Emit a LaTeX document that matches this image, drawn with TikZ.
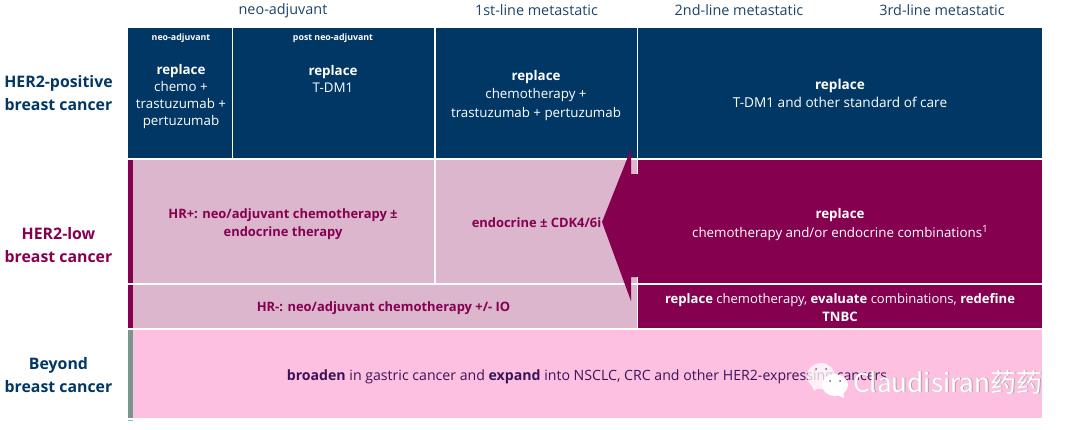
\documentclass[tikz,border=0pt]{standalone}
\usepackage{fontspec}
\setmainfont{Open Sans}
\newfontfamily\cjkf{Noto Sans CJK SC}
\definecolor{navy}{HTML}{003764}
\definecolor{maroon}{HTML}{85004F}
\definecolor{lightm}{HTML}{DBB6CD}
\definecolor{pinkb}{HTML}{FDC0E1}
\definecolor{graybar}{HTML}{7A958E}
\definecolor{headc}{HTML}{1F4468}
\definecolor{darkt}{HTML}{3A1458}
\tikzset{
 x=0.75pt,y=-0.75pt,
 every node/.style={inner sep=0pt,outer sep=0pt,align=center},
 head/.style={text=headc,font=\fontsize{10.8}{12}\selectfont},
 rowlab/.style={text=navy,font=\bfseries\fontsize{11.9}{16.8}\selectfont},
 rowlabm/.style={text=maroon,font=\bfseries\fontsize{11.9}{16.8}\selectfont},
 tiny/.style={text=white,font=\bfseries\fontsize{6.6}{8}\selectfont},
 cell/.style={text=white,font=\fontsize{10}{13.6}\selectfont},
 cellnarrow/.style={text=white,font=\fontsize{10}{12.75}\selectfont},
 celldark/.style={text=maroon,font=\bfseries\fontsize{9.7}{13.5}\selectfont},
 sep/.style={white,line width=0.9pt},
 wmark/.style={font=\cjkf\fontsize{19.6}{22}\selectfont,anchor=west},
}
\begin{document}
\begin{tikzpicture}
\useasboundingbox (0,0) rectangle (1080,429);
% fills
\fill[navy] (128,28) rectangle (1042,158);
\fill[lightm] (128,160) rectangle (637,283);
\fill[lightm] (128,285) rectangle (637,328);
\fill[maroon] (638,160) rectangle (1042,283);
\fill[maroon] (638,285) rectangle (1042,328);
\fill[pinkb] (128,330) rectangle (1042,418);
\fill[maroon] (128,160) rectangle (133,283);
\fill[maroon] (128,285) rectangle (133,328);
\fill[graybar] (128,330) rectangle (133,418);
\fill[graybar!70] (128,420) rectangle (133,421);
% separators
\draw[sep] (232.5,28) -- (232.5,160);
\draw[sep] (435,28) -- (435,283);
\draw[sep] (637.5,28) -- (637.5,160);
\draw[sep] (637.5,283) -- (637.5,328);
\draw[sep] (128,159) -- (1042,159);
% arrow
\fill[lightm] (631,160) rectangle (638,175);
\fill[lightm] (631,276) rectangle (638,285);
\draw[sep] (637.5,160) -- (637.5,175);
\draw[sep] (637.5,276) -- (637.5,283);
\draw[white,line width=1pt] (128,284) -- (638,284);
\fill[maroon] (602,222) -- (631,149) -- (631,174) -- (639,174) -- (639,277) -- (631,277) -- (631,301) -- cycle;
% headers
\node[head] (h1) at (283,10.5) {neo-adjuvant};
\node[head] (h2) at (536.5,10.5) {1st-line metastatic};
\node[head] (h3) at (739,10.5) {2nd-line metastatic};
\node[head] (h4) at (942,10.5) {3rd-line metastatic};
% row labels
\node[rowlab] (r1) at (58.5,93) {HER2-positive\\breast cancer};
\node[rowlabm] (r2) at (58.5,245) {HER2-low\\breast cancer};
\node[rowlab] (r3) at (58.5,375) {Beyond\\breast cancer};
% top row
\node[tiny] (t1) at (181,38) {neo-adjuvant};
\node[tiny] (t2) at (333,38) {post neo-adjuvant};
\node[cellnarrow] (c1) at (181,96.5) {\textbf{replace}\\chemo +\\trastuzumab +\\pertuzumab};
\node[cellnarrow] (c2) at (333,78.5) {\textbf{replace}\\T-DM1};
\node[cell] (c3) at (536,95.5) {\textbf{replace}\\chemotherapy +\\trastuzumab + pertuzumab};
\node[cell,font=\fontsize{10.2}{13.6}\selectfont] (c4) at (840,93.5) {\textbf{replace}\\T-DM1 and other standard of care};
% row 2
\node[celldark] (d1) at (283,224.5) {HR+: neo/adjuvant chemotherapy ±\\endocrine therapy};
\node[celldark] (d2) at (536.5,222.5) {endocrine ± CDK4/6i};
\node[cell] (d3) at (840,224.5) {\textbf{replace}\\chemotherapy and/or endocrine combinations\raisebox{3.5pt}{\fontsize{7.5}{8}\selectfont 1}};
% row 3
\node[celldark] (e1) at (383.5,308.5) {HR-: neo/adjuvant chemotherapy +/- IO};
\node[cell,font=\fontsize{9.8}{13.6}\selectfont] (e2) at (840,307.5) {\textbf{replace} chemotherapy, \textbf{evaluate} combinations, \textbf{redefine}\\\textbf{TNBC}};
% row 4
\node[text=darkt,font=\fontsize{10.6}{14}\selectfont] (f1) at (587,376.5) {\textbf{broaden} in gastric cancer and \textbf{expand} into NSCLC, CRC and other HER2-expressing cancers};
% watermark
\fill[white,opacity=.75] (821,376) ellipse (14 and 13);
\fill[white,opacity=.75] (811,384) -- (818,388) -- (814,391) -- cycle;
\fill[white] (835,385) ellipse (13 and 11);
\fill[white] (836,394) -- (843,392) -- (844,398) -- cycle;
\fill[darkt!70] (816,369) circle (1) (826,369) circle (1) (830,381) circle (1) (840,381) circle (1);
\node[text=black!35,wmark] (ws) at (853.7,382.7) {Claudisiran药药};
\node[text=white,wmark] (w) at (853,382) {Claudisiran药药};
\end{tikzpicture}
\end{document}
